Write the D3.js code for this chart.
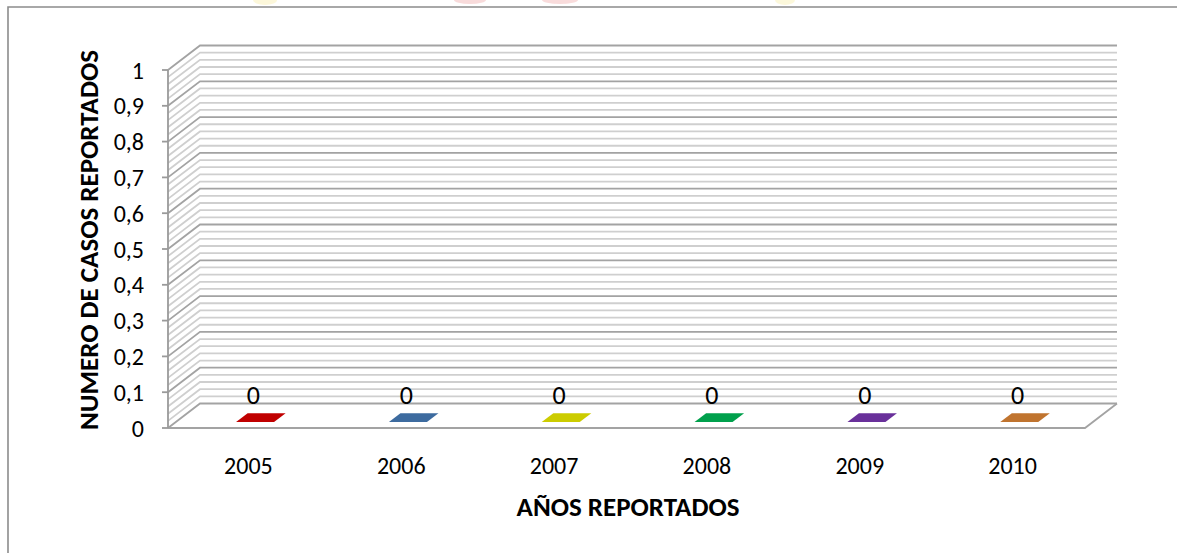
<!DOCTYPE html>
<html>
<head>
<meta charset="utf-8">
<script src="https://cdn.jsdelivr.net/npm/d3@7"></script>
<style>
  body { margin: 0; background: #fff; }
  svg text { font-family: Carlito, Calibri, Lato, sans-serif; fill: #000; }
</style>
</head>
<body>
<svg id="chart" width="1177" height="553"></svg>
<script>
// Data ------------------------------------------------------------------------
var years = ["2005", "2006", "2007", "2008", "2009", "2010"];
var casos = [0, 0, 0, 0, 0, 0];
var barColors = ["#c00000", "#3d6b9f", "#cccc00", "#00a04c", "#69309a", "#c0742f"];
var yTitle = "NUMERO DE CASOS REPORTADOS";
var xTitle = "AÑOS REPORTADOS";

// Layout ----------------------------------------------------------------------
var svg = d3.select("#chart");
var plotLeft = 168, plotRight = 1085, plotTop = 70, plotBottom = 428;
var depthX = 32, depthY = -24.5;   // offset of the back wall

var x = d3.scaleBand().domain(years).range([plotLeft, plotRight]);
var y = d3.scaleLinear().domain([0, 1]).range([plotBottom, plotTop]);
var locale = d3.formatLocale({ decimal: ",", thousands: ".", grouping: [3], currency: ["", ""] });
var fmt = locale.format("~g");

// faint watermark at the top edge
var wm = svg.append("g").attr("opacity", 0.2);
wm.append("ellipse").attr("cx", 265).attr("cy", 0).attr("rx", 12).attr("ry", 5).attr("fill", "#f2dc4a");
wm.append("ellipse").attr("cx", 470).attr("cy", 0).attr("rx", 16).attr("ry", 4).attr("fill", "#e05050");
wm.append("ellipse").attr("cx", 560).attr("cy", 0).attr("rx", 18).attr("ry", 4).attr("fill", "#e05050");
wm.append("ellipse").attr("cx", 785).attr("cy", 0).attr("rx", 10).attr("ry", 5).attr("fill", "#f2dc4a");

// chart border (left + top)
svg.append("path")
    .attr("d", "M8,553 V7 H1177")
    .attr("fill", "none")
    .attr("stroke", "#8c8c8c")
    .attr("stroke-width", 1.6);

// Walls / gridlines -----------------------------------------------------------
var minor = d3.range(0, 51).map(function (i) { return i / 50; });
var grid = svg.append("g");
grid.selectAll("path")
    .data(minor)
    .enter()
    .append("path")
    .attr("d", function (v) {
        var yy = y(v);
        return "M" + plotLeft + "," + yy + " L" + (plotLeft + depthX) + "," + (yy + depthY) +
            " H" + (plotRight + depthX);
    })
    .attr("fill", "none")
    .attr("stroke", function (v, i) { return i % 5 === 0 ? "#a3a3a3" : "#cfcfcf"; })
    .attr("stroke-width", 1.8);

// floor
svg.append("path")
    .attr("d", "M" + plotLeft + "," + plotBottom + " H" + plotRight + " L" + (plotRight + depthX) + "," + (plotBottom + depthY))
    .attr("fill", "none")
    .attr("stroke", "#a3a3a3")
    .attr("stroke-width", 1.8);

// value axis
var yAxisG = svg.append("g");
yAxisG.append("line")
    .attr("x1", plotLeft).attr("x2", plotLeft)
    .attr("y1", y(1)).attr("y2", y(0))
    .attr("stroke", "#9a9a9a").attr("stroke-width", 1.8);
var ticks = y.ticks(10);
yAxisG.selectAll(".tick")
    .data(ticks)
    .enter()
    .append("line")
    .attr("x1", plotLeft - 6).attr("x2", plotLeft)
    .attr("y1", function (d) { return y(d); })
    .attr("y2", function (d) { return y(d); })
    .attr("stroke", "#9a9a9a").attr("stroke-width", 1.8);
yAxisG.selectAll("text")
    .data(ticks)
    .enter()
    .append("text")
    .attr("x", 144)
    .attr("y", function (d) { return y(d); })
    .attr("dy", "0.36em")
    .attr("text-anchor", "end")
    .attr("font-size", 24)
    .text(function (d) { return fmt(d); });

// Bars (3D boxes, zero height here) ------------------------------------------
var barW = 38, d0 = 0.24, d1 = 0.6;
var bars = svg.append("g");
years.forEach(function (yr, i) {
    var cx = x(yr) + x.bandwidth() / 2 + 3;
    var x0 = cx - barW / 2, x1 = cx + barW / 2;
    var yb = y(0), yt = y(casos[i]);
    var fx = d0 * depthX, fy = d0 * depthY, bx = d1 * depthX, by = d1 * depthY;
    var col = d3.color(barColors[i]);
    // front face
    bars.append("path")
        .attr("d", "M" + (x0 + fx) + "," + (yb + fy) + " H" + (x1 + fx) + " V" + (yt + fy) + " H" + (x0 + fx) + "Z")
        .attr("fill", col.darker(0.2));
    // side face
    bars.append("path")
        .attr("d", "M" + (x1 + fx) + "," + (yb + fy) + " L" + (x1 + bx) + "," + (yb + by) +
            " V" + (yt + by) + " L" + (x1 + fx) + "," + (yt + fy) + "Z")
        .attr("fill", col.darker(0.6));
    // top face
    bars.append("path")
        .attr("d", "M" + (x0 + fx) + "," + (yt + fy) + " H" + (x1 + fx) + " L" + (x1 + bx) + "," + (yt + by) +
            " H" + (x0 + bx) + "Z")
        .attr("fill", col);
    // value label
    bars.append("text")
        .attr("x", x(yr) + x.bandwidth() / 2 + 9)
        .attr("y", yt - 33)
        .attr("dy", "0.36em")
        .attr("text-anchor", "middle")
        .attr("font-size", 26)
        .text(casos[i]);
});

// Category labels -------------------------------------------------------------
svg.append("g").selectAll("text")
    .data(years)
    .enter()
    .append("text")
    .attr("x", function (d) { return x(d) + x.bandwidth() / 2 + 4; })
    .attr("y", 465)
    .attr("dy", "0.36em")
    .attr("text-anchor", "middle")
    .attr("font-size", 24)
    .text(function (d) { return d; });

// Titles ------------------------------------------------------------------------
svg.append("text")
    .attr("x", 628).attr("y", 506)
    .attr("dy", "0.36em")
    .attr("text-anchor", "middle")
    .attr("font-size", 27)
    .attr("font-weight", "bold")
    .text(xTitle);

svg.append("text")
    .attr("transform", "translate(88,240) rotate(-90)")
    .attr("dy", "0.36em")
    .attr("text-anchor", "middle")
    .attr("font-size", 27)
    .attr("font-weight", "bold")
    .text(yTitle);
</script>
</body>
</html>
